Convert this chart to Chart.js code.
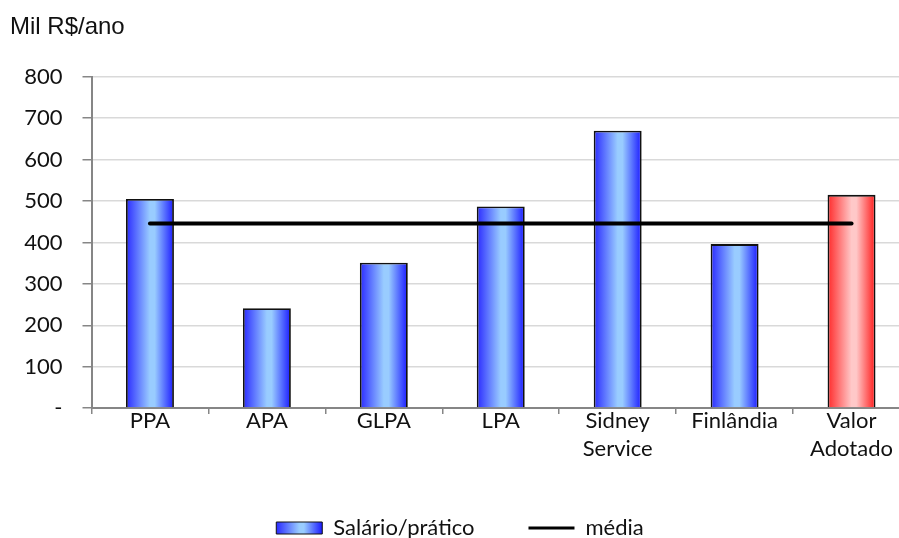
<!DOCTYPE html>
<html>
<head>
<meta charset="utf-8">
<script src="https://cdn.jsdelivr.net/npm/chart.js@4.4.1/dist/chart.umd.min.js"></script>
<style>
  html, body { margin: 0; padding: 0; background: #fff; overflow: hidden; width: 899px; height: 538px; }
  #wrap { width: 910px; height: 538px; }
</style>
</head>
<body>
<div id="wrap"><canvas id="chart"></canvas></div>
<script>
// data
const categories = ['PPA', 'APA', 'GLPA', 'LPA', ['Sidney', 'Service'], 'Finlândia', ['Valor', 'Adotado']];
const salario = [505, 241, 351, 487, 670, 396, 515];
const media = [446, 446, 446, 446, 446, 446, 446];
const yTicks = [0, 100, 200, 300, 400, 500, 600, 700, 800];

const BAR_PCT = 0.41;
const highlightIndex = 6; // "Valor Adotado" drawn red
const PAD_LEFT = 10;
const X_LIFT = 7; // pull the category labels up towards the axis

const FONT = 'Lato, "Open Sans", sans-serif';

function blueGrad(g) {
  g.addColorStop(0, '#2a2aff');
  g.addColorStop(0.5, '#99ccff');
  g.addColorStop(0.6, '#99ccff');
  g.addColorStop(1, '#1a1aff');
  return g;
}
function redGrad(g) {
  g.addColorStop(0, '#ff2a2a');
  g.addColorStop(0.5, '#ffc8c8');
  g.addColorStop(0.6, '#ffc8c8');
  g.addColorStop(1, '#ff1a1a');
  return g;
}

function barFill(ctx) {
  const chart = ctx.chart;
  const xs = chart.scales.x;
  if (!xs || ctx.dataIndex === undefined) return '#6f9cff';
  const cx = xs.getPixelForValue(ctx.dataIndex);
  const half = (xs.width / categories.length) * BAR_PCT / 2;
  const g = chart.ctx.createLinearGradient(cx - half, 0, cx + half, 0);
  return ctx.dataIndex === highlightIndex ? redGrad(g) : blueGrad(g);
}

// legend box gets the same gradient look
const legendGradient = {
  id: 'legendGradient',
  beforeDraw(chart) {
    const lg = chart.legend;
    if (!lg || !lg.legendHitBoxes.length) return;
    const hb = lg.legendHitBoxes[0];
    const g = chart.ctx.createLinearGradient(hb.left, 0, hb.left + 46, 0);
    lg.legendItems[0].fillStyle = blueGrad(g);
  }
};

new Chart(document.getElementById('chart'), {
  data: {
    labels: categories,
    datasets: [
      {
        type: 'line',
        label: 'média',
        data: media,
        borderColor: '#000',
        borderWidth: 4,
        borderCapStyle: 'round',
        pointRadius: 0,
        fill: false,
        order: 0
      },
      {
        type: 'bar',
        label: 'Salário/prático',
        data: salario,
        backgroundColor: barFill,
        borderColor: '#111',
        borderWidth: 1.8,
        categoryPercentage: 1,
        barPercentage: BAR_PCT,
        order: 1
      }
    ]
  },
  options: {
    responsive: true,
    maintainAspectRatio: false,
    animation: false,
    layout: { padding: { left: PAD_LEFT, right: 0, top: 0, bottom: -11 } },
    scales: {
      x: {
        offset: true,
        afterFit(scale) { scale.height += X_LIFT; },
        grid: { drawOnChartArea: false, drawTicks: true, tickLength: 6, color: '#868686', lineWidth: 1.5, offset: true },
        border: { color: '#868686', width: 2 },
        ticks: { color: '#111', font: { family: FONT, size: 22, lineHeight: 1.27 }, padding: -X_LIFT, maxRotation: 0, autoSkip: false }
      },
      y: {
        min: 0,
        max: 800,
        afterFit(scale) { scale.width = 91.5 - PAD_LEFT; },
        afterBuildTicks(scale) { scale.ticks = yTicks.map(v => ({ value: v })); },
        grid: { color: '#d9d9d9', lineWidth: 1.5, tickLength: 9, tickColor: '#868686' },
        border: { color: '#868686', width: 2 },
        ticks: {
          color: '#111',
          font: { family: FONT, size: 22 },
          padding: 20,
          callback: v => (v === 0 ? '-' : v)
        }
      }
    },
    plugins: {
      title: {
        display: true,
        text: 'Mil R$/ano',
        align: 'start',
        color: '#111',
        font: { family: '"Liberation Sans", Arial, sans-serif', size: 24, weight: 'normal' },
        padding: { top: 13, bottom: 35 }
      },
      legend: {
        position: 'bottom',
        reverse: true,
        labels: {
          color: '#111',
          font: { family: FONT, size: 22 },
          usePointStyle: true,
          pointStyleWidth: 46,
          boxWidth: 46,
          boxHeight: 12,
          padding: 54,
          generateLabels(chart) {
            return [
              { text: 'média', datasetIndex: 0, pointStyle: 'line', strokeStyle: '#000', lineWidth: 3, fillStyle: '#000', fontColor: '#111' },
              { text: 'Salário/prático', datasetIndex: 1, pointStyle: 'rect', strokeStyle: '#111', lineWidth: 1, fillStyle: '#6f9cff', fontColor: '#111' }
            ];
          }
        }
      },
      tooltip: { enabled: false }
    }
  },
  plugins: [legendGradient]
});
</script>
</body>
</html>
